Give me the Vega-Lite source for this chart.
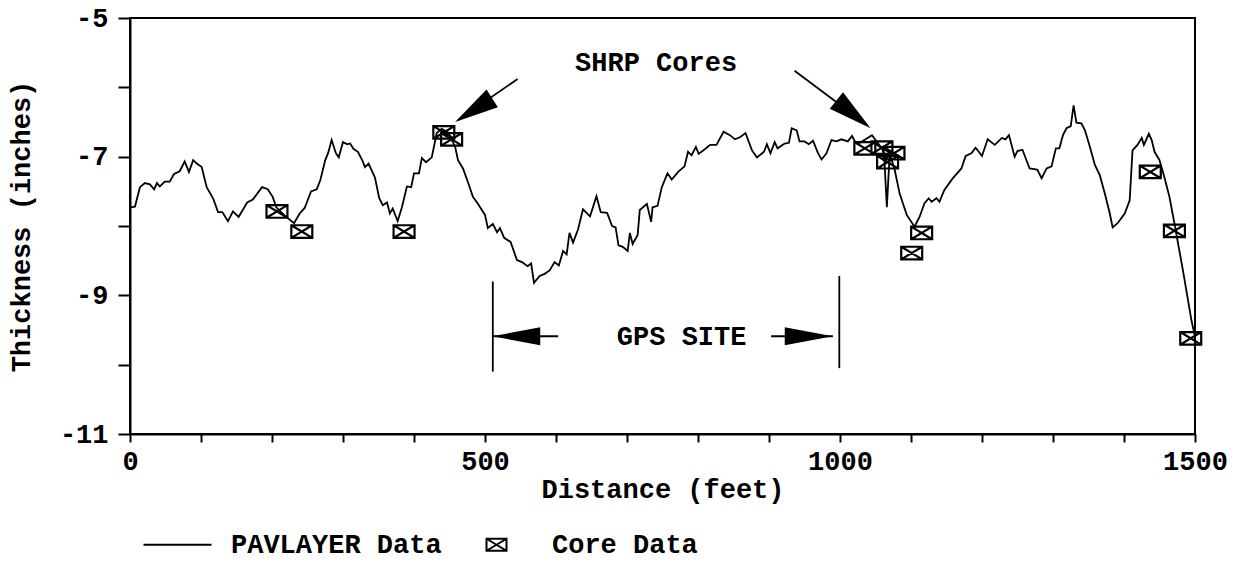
{
  "$schema": "https://vega.github.io/schema/vega-lite/v6.json",
  "width": 1065,
  "height": 416,
  "autosize": {"type": "none"},
  "padding": {"left": 130, "top": 18, "right": 44, "bottom": 145},
  "background": "white",
  "config": {
    "view": {"stroke": "black", "strokeWidth": 2},
    "font": "Liberation Mono",
    "axis": {
      "grid": false,
      "domainColor": "black",
      "domainWidth": 2,
      "tickColor": "black",
      "tickWidth": 2,
      "labelFont": "Liberation Mono",
      "labelFontWeight": "bold",
      "labelFontSize": 27,
      "labelColor": "black",
      "titleFont": "Liberation Mono",
      "titleFontWeight": "bold",
      "titleFontSize": 27,
      "titleColor": "black"
    },
    "legend": {
      "labelFont": "Liberation Mono",
      "labelFontWeight": "bold",
      "labelFontSize": 27,
      "labelColor": "black",
      "labelLimit": 0
    }
  },
  "datasets": {
    "pav": [
      {"d":0,"t":-7.73},{"d":7,"t":-7.72},{"d":14,"t":-7.44},{"d":21,"t":-7.38},{"d":28,"t":-7.40},{"d":34,"t":-7.47},{"d":38,"t":-7.38},{"d":42,"t":-7.43},{"d":49,"t":-7.36},{"d":56,"t":-7.36},{"d":62,"t":-7.25},{"d":70,"t":-7.21},{"d":77,"t":-7.07},{"d":83,"t":-7.22},{"d":89,"t":-7.05},{"d":94,"t":-7.10},{"d":101,"t":-7.15},{"d":108,"t":-7.44},{"d":117,"t":-7.60},{"d":124,"t":-7.80},{"d":130,"t":-7.80},{"d":138,"t":-7.93},{"d":145,"t":-7.79},{"d":153,"t":-7.87},{"d":165,"t":-7.66},{"d":173,"t":-7.62},{"d":186,"t":-7.44},{"d":194,"t":-7.47},{"d":201,"t":-7.58},{"d":206,"t":-7.73},{"d":218,"t":-7.85},{"d":231,"t":-7.96},{"d":239,"t":-7.82},{"d":246,"t":-7.74},{"d":255,"t":-7.50},{"d":263,"t":-7.47},{"d":268,"t":-7.34},{"d":275,"t":-7.05},{"d":279,"t":-6.95},{"d":284,"t":-6.76},{"d":290,"t":-6.95},{"d":294,"t":-7.01},{"d":300,"t":-6.79},{"d":306,"t":-6.82},{"d":310,"t":-6.81},{"d":315,"t":-6.89},{"d":321,"t":-6.93},{"d":327,"t":-7.05},{"d":331,"t":-7.15},{"d":336,"t":-7.10},{"d":345,"t":-7.30},{"d":351,"t":-7.60},{"d":356,"t":-7.70},{"d":362,"t":-7.66},{"d":366,"t":-7.82},{"d":370,"t":-7.75},{"d":377,"t":-7.93},{"d":383,"t":-7.73},{"d":390,"t":-7.43},{"d":396,"t":-7.44},{"d":400,"t":-7.24},{"d":407,"t":-7.24},{"d":411,"t":-7.02},{"d":417,"t":-7.08},{"d":425,"t":-7.01},{"d":429,"t":-6.81},{"d":432,"t":-6.66},{"d":439,"t":-6.60},{"d":448,"t":-6.65},{"d":458,"t":-6.86},{"d":462,"t":-7.05},{"d":469,"t":-7.17},{"d":476,"t":-7.37},{"d":483,"t":-7.58},{"d":490,"t":-7.68},{"d":500,"t":-7.84},{"d":504,"t":-8.03},{"d":511,"t":-7.97},{"d":517,"t":-8.09},{"d":521,"t":-8.03},{"d":527,"t":-8.17},{"d":536,"t":-8.23},{"d":545,"t":-8.49},{"d":552,"t":-8.52},{"d":560,"t":-8.58},{"d":565,"t":-8.54},{"d":569,"t":-8.82},{"d":577,"t":-8.72},{"d":584,"t":-8.69},{"d":591,"t":-8.64},{"d":598,"t":-8.52},{"d":604,"t":-8.57},{"d":610,"t":-8.36},{"d":615,"t":-8.41},{"d":619,"t":-8.10},{"d":624,"t":-8.24},{"d":631,"t":-8.05},{"d":638,"t":-7.76},{"d":648,"t":-7.86},{"d":657,"t":-7.57},{"d":663,"t":-7.80},{"d":672,"t":-7.81},{"d":679,"t":-8.00},{"d":684,"t":-8.02},{"d":688,"t":-8.28},{"d":694,"t":-8.30},{"d":701,"t":-8.36},{"d":704,"t":-8.10},{"d":708,"t":-8.26},{"d":715,"t":-8.13},{"d":718,"t":-7.77},{"d":728,"t":-7.68},{"d":734,"t":-7.94},{"d":736,"t":-7.73},{"d":743,"t":-7.71},{"d":749,"t":-7.44},{"d":757,"t":-7.24},{"d":763,"t":-7.33},{"d":772,"t":-7.22},{"d":781,"t":-7.14},{"d":786,"t":-6.93},{"d":791,"t":-6.98},{"d":797,"t":-6.86},{"d":801,"t":-6.96},{"d":810,"t":-6.89},{"d":817,"t":-6.83},{"d":826,"t":-6.83},{"d":836,"t":-6.64},{"d":845,"t":-6.69},{"d":852,"t":-6.75},{"d":859,"t":-6.72},{"d":867,"t":-6.66},{"d":876,"t":-6.91},{"d":883,"t":-7.01},{"d":893,"t":-6.93},{"d":897,"t":-6.82},{"d":902,"t":-6.95},{"d":908,"t":-6.79},{"d":912,"t":-6.88},{"d":922,"t":-6.81},{"d":928,"t":-6.80},{"d":932,"t":-6.59},{"d":939,"t":-6.62},{"d":943,"t":-6.78},{"d":950,"t":-6.78},{"d":956,"t":-6.82},{"d":962,"t":-6.77},{"d":969,"t":-6.95},{"d":974,"t":-7.04},{"d":981,"t":-6.95},{"d":988,"t":-6.76},{"d":995,"t":-6.78},{"d":1002,"t":-6.75},{"d":1011,"t":-6.78},{"d":1017,"t":-6.70},{"d":1021,"t":-6.78},{"d":1028,"t":-6.80},{"d":1036,"t":-6.75},{"d":1045,"t":-6.69},{"d":1053,"t":-6.80},{"d":1060,"t":-6.90},{"d":1062,"t":-6.95},{"d":1066,"t":-7.73},{"d":1070,"t":-6.95},{"d":1077,"t":-7.19},{"d":1084,"t":-7.53},{"d":1094,"t":-7.84},{"d":1105,"t":-8.01},{"d":1112,"t":-7.87},{"d":1119,"t":-7.67},{"d":1125,"t":-7.60},{"d":1129,"t":-7.65},{"d":1136,"t":-7.60},{"d":1140,"t":-7.65},{"d":1147,"t":-7.48},{"d":1159,"t":-7.31},{"d":1171,"t":-7.17},{"d":1177,"t":-6.99},{"d":1185,"t":-6.95},{"d":1191,"t":-6.87},{"d":1200,"t":-6.99},{"d":1208,"t":-6.75},{"d":1218,"t":-6.83},{"d":1228,"t":-6.73},{"d":1233,"t":-6.75},{"d":1238,"t":-6.69},{"d":1246,"t":-7.00},{"d":1250,"t":-6.92},{"d":1257,"t":-6.90},{"d":1267,"t":-7.17},{"d":1274,"t":-7.18},{"d":1278,"t":-7.19},{"d":1284,"t":-7.31},{"d":1291,"t":-7.17},{"d":1298,"t":-7.14},{"d":1304,"t":-6.88},{"d":1309,"t":-6.88},{"d":1314,"t":-6.69},{"d":1319,"t":-6.59},{"d":1325,"t":-6.56},{"d":1329,"t":-6.26},{"d":1333,"t":-6.51},{"d":1340,"t":-6.52},{"d":1345,"t":-6.62},{"d":1352,"t":-6.86},{"d":1359,"t":-7.12},{"d":1366,"t":-7.27},{"d":1373,"t":-7.53},{"d":1380,"t":-7.82},{"d":1384,"t":-8.02},{"d":1391,"t":-7.96},{"d":1401,"t":-7.82},{"d":1408,"t":-7.63},{"d":1412,"t":-6.91},{"d":1419,"t":-6.83},{"d":1425,"t":-6.73},{"d":1428,"t":-6.83},{"d":1435,"t":-6.67},{"d":1439,"t":-6.76},{"d":1443,"t":-6.93},{"d":1450,"t":-7.05},{"d":1457,"t":-7.30},{"d":1464,"t":-7.58},{"d":1471,"t":-7.96},{"d":1483,"t":-8.64},{"d":1495,"t":-9.36},{"d":1500,"t":-9.60}
    ],
    "cores": [
      {"d":207,"t":-7.79},{"d":242,"t":-8.08},{"d":386,"t":-8.08},{"d":442,"t":-6.65},{"d":453,"t":-6.75},{"d":1035,"t":-6.88},{"d":1059,"t":-6.87},{"d":1067,"t":-7.08},{"d":1076,"t":-6.95},{"d":1101,"t":-8.39},{"d":1115,"t":-8.10},{"d":1437,"t":-7.22},{"d":1471,"t":-8.07},{"d":1494,"t":-9.62}
    ],
    "rules": [
      {"x":511,"x2":511,"y":-8.8,"y2":-10.1},
      {"x":999,"x2":999,"y":-8.72,"y2":-10.05},
      {"x":511,"x2":603,"y":-9.59,"y2":-9.59},
      {"x":903,"x2":990,"y":-9.59,"y2":-9.59},
      {"x":546,"x2":462,"y":-5.88,"y2":-6.47},
      {"x":936,"x2":1039,"y":-5.76,"y2":-6.55}
    ],
    "labels": [
      {"x":741,"y":-5.65,"text":"SHRP Cores"},
      {"x":777,"y":-9.6,"text":"GPS SITE"}
    ]
  },
  "layer": [
    {
      "data": {"name": "pav"},
      "mark": {"type": "line", "color": "black", "strokeWidth": 1.8},
      "encoding": {
        "x": {"field": "d", "type": "quantitative", "scale": {"domain": [0, 1500], "nice": false, "zero": false},
          "axis": {"title": "Distance (feet)", "values": [0,100,200,300,400,500,600,700,800,900,1000,1100,1200,1300,1400,1500],
            "labelExpr": "datum.value % 500 === 0 ? '' + datum.value : ''", "tickSize": 8, "labelPadding": 6, "titlePadding": 2, "labelFlush": false, "labelOverlap": false}},
        "y": {"field": "t", "type": "quantitative", "scale": {"domain": [-11, -5], "nice": false, "zero": false},
          "axis": {"title": "Thickness (inches)", "values": [-11,-10,-9,-8,-7,-6,-5],
            "labelExpr": "datum.value % 2 !== 0 ? '' + datum.value : ''", "tickSize": 12, "labelPadding": 10, "titlePadding": 24, "labelFlush": false, "labelOverlap": false}}
      }
    },
    {
      "data": {"name": "cores"},
      "mark": {"type": "point", "filled": false, "color": "black", "strokeWidth": 2.2, "size": 440, "opacity": 1},
      "encoding": {
        "x": {"field": "d", "type": "quantitative"},
        "y": {"field": "t", "type": "quantitative"},
        "shape": {"datum": "Core Data",
          "scale": {"domain": ["PAVLAYER Data", "Core Data"], "range": ["M-3.2,0H3.6", "M-1,-0.6H1V0.6H-1Z M-1,-0.6L1,0.6 M1,-0.6L-1,0.6"]},
          "legend": {"title": null, "orient": "none", "legendX": 32, "legendY": 513, "direction": "horizontal",
            "symbolSize": 400, "symbolStrokeColor": "black", "symbolFillColor": "transparent", "symbolStrokeWidth": 2,
            "labelOffset": 42, "columnPadding": 40, "labelLimit": 0}}
      }
    },
    {
      "data": {"name": "rules"},
      "mark": {"type": "rule", "color": "black", "strokeWidth": 1.8},
      "encoding": {
        "x": {"field": "x", "type": "quantitative"},
        "x2": {"field": "x2"},
        "y": {"field": "y", "type": "quantitative"},
        "y2": {"field": "y2"}
      }
    },
    {
      "data": {"values": [{"x": 544, "y": -9.59}]},
      "mark": {"type": "point", "shape": "M0,-1L0.375,1L-0.375,1Z", "filled": true, "color": "black", "opacity": 1, "size": 2304, "angle": 270},
      "encoding": {"x": {"field": "x", "type": "quantitative"}, "y": {"field": "y", "type": "quantitative"}}
    },
    {
      "data": {"values": [{"x": 956, "y": -9.59}]},
      "mark": {"type": "point", "shape": "M0,-1L0.375,1L-0.375,1Z", "filled": true, "color": "black", "opacity": 1, "size": 2304, "angle": 90},
      "encoding": {"x": {"field": "x", "type": "quantitative"}, "y": {"field": "y", "type": "quantitative"}}
    },
    {
      "data": {"values": [{"x": 484, "y": -6.33}]},
      "mark": {"type": "point", "shape": "M0,-1L0.48,1L-0.48,1Z", "filled": true, "color": "black", "opacity": 1, "size": 1936, "angle": 237.5},
      "encoding": {"x": {"field": "x", "type": "quantitative"}, "y": {"field": "y", "type": "quantitative"}}
    },
    {
      "data": {"values": [{"x": 1019, "y": -6.39}]},
      "mark": {"type": "point", "shape": "M0,-1L0.48,1L-0.48,1Z", "filled": true, "color": "black", "opacity": 1, "size": 1936, "angle": 129},
      "encoding": {"x": {"field": "x", "type": "quantitative"}, "y": {"field": "y", "type": "quantitative"}}
    },
    {
      "data": {"name": "labels"},
      "mark": {"type": "text", "font": "Liberation Mono", "fontWeight": "bold", "fontSize": 27, "color": "black", "align": "center", "baseline": "middle"},
      "encoding": {
        "x": {"field": "x", "type": "quantitative"},
        "y": {"field": "y", "type": "quantitative"},
        "text": {"field": "text"}
      }
    }
  ]
}
